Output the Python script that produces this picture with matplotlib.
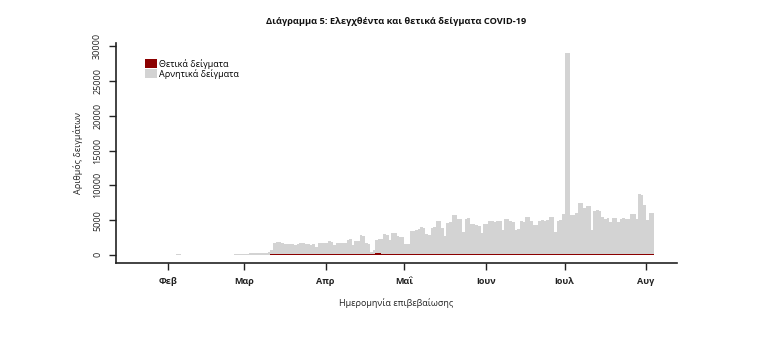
import matplotlib
matplotlib.use("Agg")
import matplotlib.pyplot as plt
import matplotlib.dates as mdates
import pandas as pd
from matplotlib.patches import Patch

plt.rcParams['font.family'] = ['Open Sans', 'DejaVu Sans']

# a few early samples before the daily series starts
early_days = ['2020-02-04', '2020-02-05', '2020-02-26', '2020-02-27', '2020-02-28', '2020-02-29']
early_negative = [90, 60, 60, 80, 100, 120]
early_positive = [0, 0, 2, 3, 4, 5]

# daily samples from 1 March 2020
first_day = '2020-03-01'
negative = [
    150, 180, 200, 220, 230, 240, 250, 260, 280, 450,
    650, 1700, 1850, 1800, 1750, 1600, 1550, 1580, 1500, 1450,
    1520, 1750, 1700, 1550, 1500, 1350, 1580, 1200, 1650, 1700,
    1750, 1680, 1960, 1900, 1400, 1650, 1700, 1720, 1680, 2200,
    2300, 1430, 1950, 2050, 2850, 2700, 1650, 1500, 400, 700,
    2200, 2300, 2250, 3000, 2900, 2100, 3200, 3100, 2650, 2600,
    2500, 1530, 1600, 3450, 3500, 3600, 3700, 3970, 3900, 2950,
    2850, 3900, 4000, 4850, 4900, 3850, 2700, 4650, 4700, 5750,
    5700, 5150, 5100, 3250, 5200, 5250, 4500, 4400, 4250, 4150,
    3150, 4500, 4400, 4800, 4850, 4750, 4900, 4850, 3600, 5100,
    5150, 4800, 4750, 3600, 3650, 4800, 4750, 5500, 5450, 4800,
    4300, 4350, 4900, 4950, 4900, 4950, 5500, 5450, 3350, 4900,
    4950, 5900, 29100, 29000, 5700, 5750, 6050, 7500, 7450, 6700,
    7000, 7050, 3600, 6350, 6400, 6300, 5450, 5200, 5250, 4700,
    5300, 5350, 4700, 5200, 5250, 5200, 5150, 5850, 5900, 5200,
    8700, 8600, 7150, 5000, 6050, 6000,
]
positive = [
    5, 8, 10, 12, 15, 18, 20, 25, 30, 40,
    60, 80, 100, 110, 120, 130, 140, 150, 150, 160,
    160, 150, 150, 140, 140, 130, 130, 130, 120, 120,
    120, 110, 120, 130, 120, 110, 100, 110, 120, 130,
    110, 100, 90, 100, 110, 100, 90, 80, 70, 100,
    250, 300, 160, 110, 100, 90, 80, 70, 60, 60,
    80, 75, 70, 70, 80, 85, 75, 70, 80, 75,
    70, 80, 85, 75, 70, 75, 80, 70, 75, 80,
    75, 70, 80, 75, 70, 75, 80, 70, 75, 70,
    75, 80, 70, 75, 80, 70, 75, 70, 80, 75,
    70, 75, 80, 75, 70, 80, 75, 70, 75, 80,
    75, 80, 85, 80, 75, 85, 80, 75, 85, 80,
    85, 90, 95, 90, 85, 95, 90, 95, 100, 95,
    100, 105, 95, 100, 105, 110, 105, 100, 110, 115,
    110, 115, 120, 115, 125, 120, 130, 125, 135, 140,
    170, 180, 150, 120, 130, 125,
]

month_ticks = ['2020-02-01', '2020-03-01', '2020-04-01', '2020-05-01',
               '2020-06-01', '2020-07-01', '2020-08-01']
month_labels = ['Φεβ', 'Μαρ', 'Απρ', 'Μαΐ', 'Ιουν', 'Ιουλ', 'Αυγ']
y_ticks = [0, 5000, 10000, 15000, 20000, 25000, 30000]

days = pd.to_datetime(early_days).append(pd.date_range(first_day, periods=len(negative)))
neg = early_negative + negative
pos = early_positive + positive
x = mdates.date2num(days)

fig = plt.figure(figsize=(7.58, 3.43), dpi=100)
ax = fig.add_axes([116 / 758, 1 - 263 / 343, 561 / 758, 220 / 343])

ax.bar(x, neg, width=1.0, align='edge', color='#d3d3d3', linewidth=0)
ax.bar(x, pos, width=1.0, align='edge', color='#8b0000', linewidth=0)

feb1 = mdates.date2num(pd.Timestamp('2020-02-01'))
ax.set_xlim(feb1 - 19.8, feb1 + 182 + 11.8)
ax.set_ylim(-1172, 30472)

ax.set_xticks(mdates.date2num(pd.to_datetime(month_ticks)))
ax.set_xticklabels(month_labels, fontsize=6.5, fontweight='bold', color='#222222')
ax.set_yticks(y_ticks)
ax.set_yticklabels([str(v) for v in y_ticks], fontsize=6.5, rotation=90,
                   va='center', color='#222222')
ax.tick_params(axis='both', direction='out', length=5, width=1, color='#222222')
ax.tick_params(axis='x', pad=5)
ax.tick_params(axis='y', pad=5)

for side in ('top', 'right'):
    ax.spines[side].set_visible(False)
for side in ('left', 'bottom'):
    ax.spines[side].set_linewidth(1.2)
    ax.spines[side].set_color('#222222')

ax.set_xlabel('Ημερομηνία επιβεβαίωσης', fontsize=6.5, color='#222222', labelpad=9)
ax.set_ylabel('Αριθμός δειγμάτων', fontsize=6.5, color='#222222', labelpad=7)
fig.text(396 / 758, 1 - 22 / 343, 'Διάγραμμα 5: Ελεγχθέντα και θετικά δείγματα COVID-19',
         ha='center', va='center', fontsize=6.7, fontweight='bold', color='#111111')

handles = [Patch(facecolor='#8b0000', edgecolor='none', label='Θετικά δείγματα'),
           Patch(facecolor='#d3d3d3', edgecolor='none', label='Αρνητικά δείγματα')]
fig.legend(handles=handles, loc='upper left', bbox_to_anchor=(145 / 758, 1 - 59 / 343),
           frameon=False, fontsize=6.5, handlelength=1.35, handleheight=1.15,
           handletextpad=0.25, labelspacing=0.0, borderpad=0, borderaxespad=0)

fig.savefig('out.png', dpi=100)
